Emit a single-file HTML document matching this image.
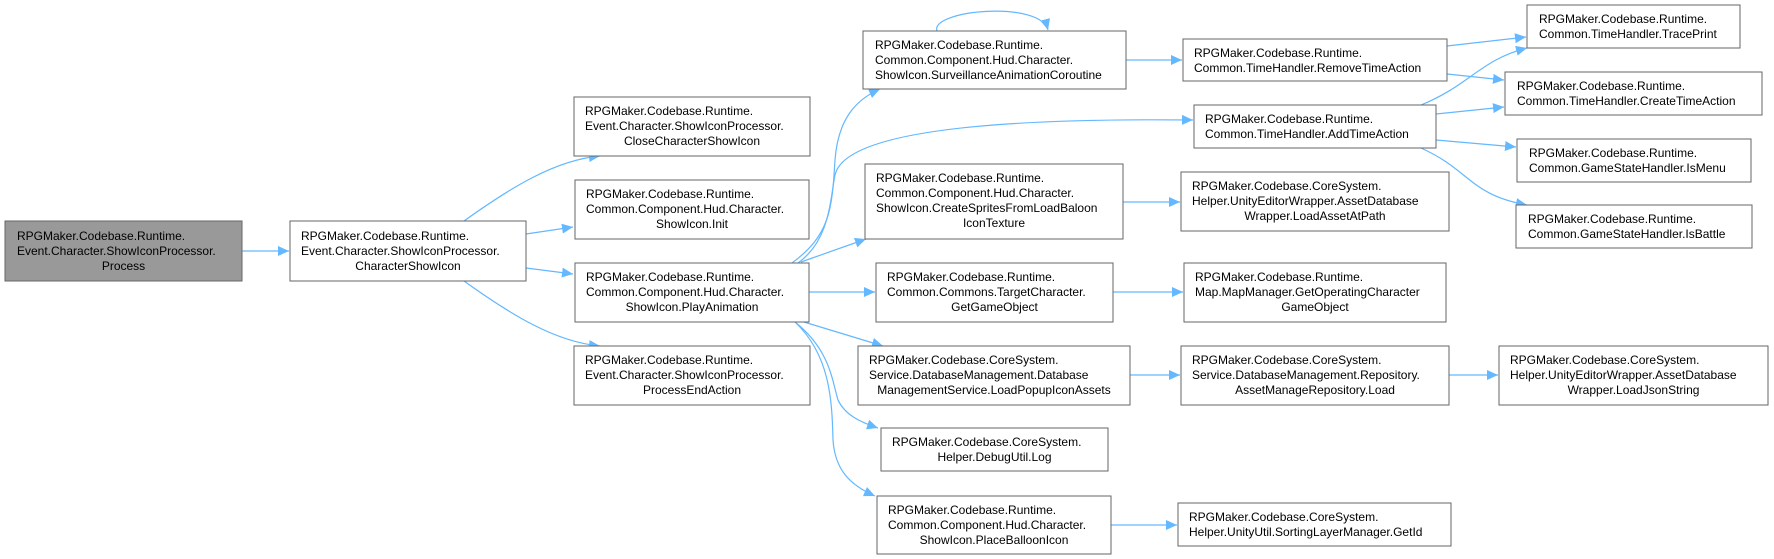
<!DOCTYPE html>
<html><head><meta charset="utf-8"><style>
html,body{margin:0;padding:0;background:#fff;}
svg{display:block;}
text{font-family:"Liberation Sans",Arial,sans-serif;font-size:12px;fill:#000;}
.b{fill:#fff;stroke:#666;stroke-width:1;}
.e{fill:none;stroke:#63b8ff;stroke-width:1.2;}
</style></head><body>
<svg width="1774" height="559" viewBox="0 0 1774 559" xmlns="http://www.w3.org/2000/svg">
<defs><marker id="a" markerUnits="userSpaceOnUse" markerWidth="12" markerHeight="10" refX="11" refY="5" orient="auto"><path d="M0,0 L11,5 L0,10 z" fill="#63b8ff"/></marker></defs>

<!-- edges -->
<g class="e" marker-end="url(#a)">
<path d="M242,251 L289,251"/>
<path d="M464,221 C510,188 555,160 600,156"/>
<path d="M526,234 L573,227"/>
<path d="M526,268 L573,274"/>
<path d="M464,281 C510,314 555,342 600,346"/>
<path d="M792,263 C830,235 832,210 835,160 C838,120 855,100 880,89"/>
<path d="M798,263 C830,240 830,200 835,175 C845,130 1000,118 1193,120"/>
<path d="M801,262 L866,239"/>
<path d="M809,292 L875,292"/>
<path d="M804,322 L883,346"/>
<path d="M795,322 C830,350 832,380 838,400 C845,415 860,422 878,428"/>
<path d="M795,322 C830,355 832,400 833,440 C835,470 850,485 875,496"/>
<path d="M937,31 C930,10 1040,0 1048,30"/>
<path d="M1126,60 L1182,60"/>
<path d="M1447,46 L1526,37"/>
<path d="M1447,74 L1504,80"/>
<path d="M1421,105 C1470,85 1480,60 1527,48"/>
<path d="M1436,114 L1504,107"/>
<path d="M1436,140 L1516,147"/>
<path d="M1421,148 C1470,170 1470,195 1527,205"/>
<path d="M1123,202 L1180,202"/>
<path d="M1113,292 L1183,292"/>
<path d="M1130,375 L1180,375"/>
<path d="M1449,375 L1498,375"/>
<path d="M1111,525 L1177,525"/>
</g>

<!-- nodes -->
<rect x="5" y="221" width="237" height="60" fill="#999" stroke="#666"/>
<text x="17" y="240">RPGMaker.Codebase.Runtime.</text>
<text x="17" y="255">Event.Character.ShowIconProcessor.</text>
<text x="123.5" y="270" text-anchor="middle">Process</text>

<rect class="b" x="290" y="221" width="236" height="60"/>
<text x="301" y="240">RPGMaker.Codebase.Runtime.</text>
<text x="301" y="255">Event.Character.ShowIconProcessor.</text>
<text x="408" y="270" text-anchor="middle">CharacterShowIcon</text>

<rect class="b" x="574" y="97" width="236" height="59"/>
<text x="585" y="115">RPGMaker.Codebase.Runtime.</text>
<text x="585" y="130">Event.Character.ShowIconProcessor.</text>
<text x="692" y="145" text-anchor="middle">CloseCharacterShowIcon</text>

<rect class="b" x="575" y="180" width="234" height="59"/>
<text x="586" y="198">RPGMaker.Codebase.Runtime.</text>
<text x="586" y="213">Common.Component.Hud.Character.</text>
<text x="692" y="228" text-anchor="middle">ShowIcon.Init</text>

<rect class="b" x="575" y="263" width="234" height="59"/>
<text x="586" y="281">RPGMaker.Codebase.Runtime.</text>
<text x="586" y="296">Common.Component.Hud.Character.</text>
<text x="692" y="311" text-anchor="middle">ShowIcon.PlayAnimation</text>

<rect class="b" x="574" y="346" width="236" height="59"/>
<text x="585" y="364">RPGMaker.Codebase.Runtime.</text>
<text x="585" y="379">Event.Character.ShowIconProcessor.</text>
<text x="692" y="394" text-anchor="middle">ProcessEndAction</text>

<rect class="b" x="863" y="31" width="263" height="58"/>
<text x="875" y="49">RPGMaker.Codebase.Runtime.</text>
<text x="875" y="64">Common.Component.Hud.Character.</text>
<text x="875" y="79">ShowIcon.SurveillanceAnimationCoroutine</text>

<rect class="b" x="865" y="164" width="258" height="75"/>
<text x="876" y="182">RPGMaker.Codebase.Runtime.</text>
<text x="876" y="197">Common.Component.Hud.Character.</text>
<text x="876" y="212">ShowIcon.CreateSpritesFromLoadBaloon</text>
<text x="994" y="227" text-anchor="middle">IconTexture</text>

<rect class="b" x="876" y="263" width="237" height="59"/>
<text x="887" y="281">RPGMaker.Codebase.Runtime.</text>
<text x="887" y="296">Common.Commons.TargetCharacter.</text>
<text x="994.5" y="311" text-anchor="middle">GetGameObject</text>

<rect class="b" x="858" y="346" width="272" height="59"/>
<text x="869" y="364">RPGMaker.Codebase.CoreSystem.</text>
<text x="869" y="379">Service.DatabaseManagement.Database</text>
<text x="994" y="394" text-anchor="middle">ManagementService.LoadPopupIconAssets</text>

<rect class="b" x="881" y="428" width="227" height="43"/>
<text x="892" y="446">RPGMaker.Codebase.CoreSystem.</text>
<text x="994.5" y="461" text-anchor="middle">Helper.DebugUtil.Log</text>

<rect class="b" x="877" y="496" width="234" height="58"/>
<text x="888" y="514">RPGMaker.Codebase.Runtime.</text>
<text x="888" y="529">Common.Component.Hud.Character.</text>
<text x="994" y="544" text-anchor="middle">ShowIcon.PlaceBalloonIcon</text>

<rect class="b" x="1183" y="39" width="264" height="42"/>
<text x="1194" y="57">RPGMaker.Codebase.Runtime.</text>
<text x="1194" y="72">Common.TimeHandler.RemoveTimeAction</text>

<rect class="b" x="1194" y="105" width="242" height="43"/>
<text x="1205" y="123">RPGMaker.Codebase.Runtime.</text>
<text x="1205" y="138">Common.TimeHandler.AddTimeAction</text>

<rect class="b" x="1181" y="172" width="268" height="59"/>
<text x="1192" y="190">RPGMaker.Codebase.CoreSystem.</text>
<text x="1192" y="205">Helper.UnityEditorWrapper.AssetDatabase</text>
<text x="1315" y="220" text-anchor="middle">Wrapper.LoadAssetAtPath</text>

<rect class="b" x="1184" y="263" width="262" height="59"/>
<text x="1195" y="281">RPGMaker.Codebase.Runtime.</text>
<text x="1195" y="296">Map.MapManager.GetOperatingCharacter</text>
<text x="1315" y="311" text-anchor="middle">GameObject</text>

<rect class="b" x="1181" y="346" width="268" height="59"/>
<text x="1192" y="364">RPGMaker.Codebase.CoreSystem.</text>
<text x="1192" y="379">Service.DatabaseManagement.Repository.</text>
<text x="1315" y="394" text-anchor="middle">AssetManageRepository.Load</text>

<rect class="b" x="1178" y="503" width="273" height="43"/>
<text x="1189" y="521">RPGMaker.Codebase.CoreSystem.</text>
<text x="1189" y="536">Helper.UnityUtil.SortingLayerManager.GetId</text>

<rect class="b" x="1527" y="5" width="213" height="43"/>
<text x="1539" y="23">RPGMaker.Codebase.Runtime.</text>
<text x="1539" y="38">Common.TimeHandler.TracePrint</text>

<rect class="b" x="1505" y="72" width="257" height="43"/>
<text x="1517" y="90">RPGMaker.Codebase.Runtime.</text>
<text x="1517" y="105">Common.TimeHandler.CreateTimeAction</text>

<rect class="b" x="1517" y="139" width="234" height="43"/>
<text x="1529" y="157">RPGMaker.Codebase.Runtime.</text>
<text x="1529" y="172">Common.GameStateHandler.IsMenu</text>

<rect class="b" x="1516" y="205" width="236" height="43"/>
<text x="1528" y="223">RPGMaker.Codebase.Runtime.</text>
<text x="1528" y="238">Common.GameStateHandler.IsBattle</text>

<rect class="b" x="1499" y="346" width="269" height="59"/>
<text x="1510" y="364">RPGMaker.Codebase.CoreSystem.</text>
<text x="1510" y="379">Helper.UnityEditorWrapper.AssetDatabase</text>
<text x="1633.5" y="394" text-anchor="middle">Wrapper.LoadJsonString</text>
</svg>
</body></html>
